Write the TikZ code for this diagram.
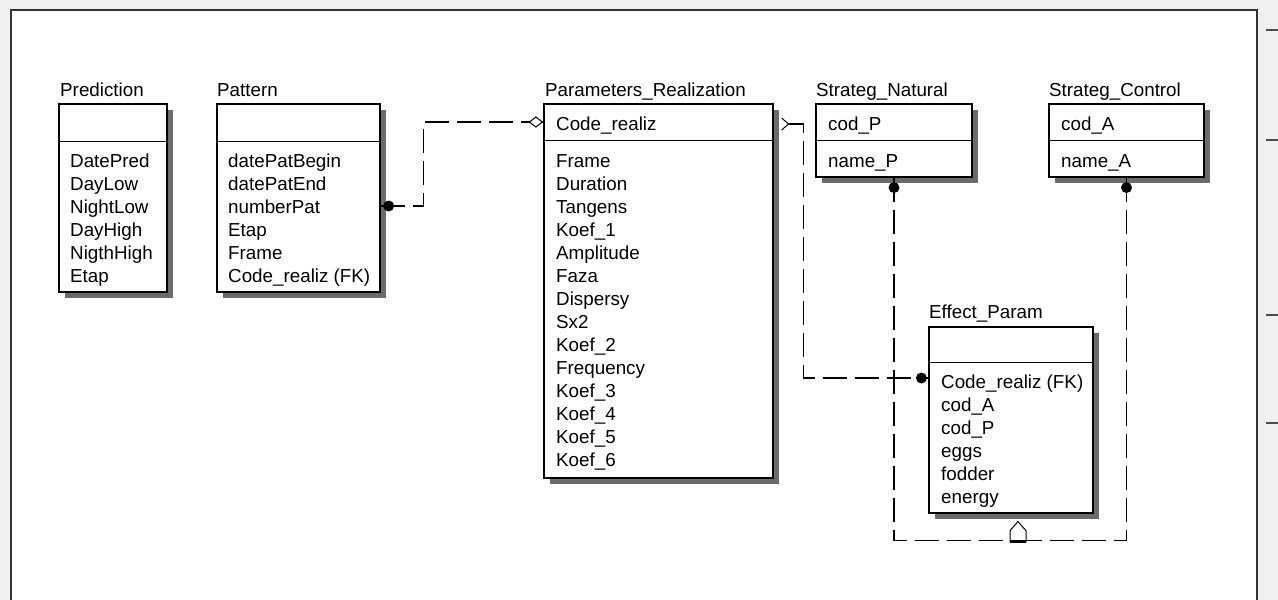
\documentclass[tikz,border=0pt]{standalone}
\usepackage{fontspec}
\setmainfont{Liberation Sans}
\usetikzlibrary{shadows}
\newcommand\efont{\fontsize{18.8}{23}\selectfont}
\tikzset{
  ent/.style={draw=black, line width=1.2pt, fill=white, inner sep=0pt,
    drop shadow={shadow xshift=6pt, shadow yshift=-6pt, fill=black!58, opacity=1}},
  ttl/.style={anchor=base west, inner sep=0pt, font=\efont},
  row/.style={anchor=base west, inner sep=0pt, font=\efont},
  sepline/.style={line width=1.2pt},
  conn/.style={line width=1.1pt, dash pattern=on 24pt off 8pt},
  dotend/.style={circle, fill=black, inner sep=0pt, minimum size=11pt},
  endmark/.style={line width=1pt, fill=white},
}
\begin{document}
\begin{tikzpicture}[x=1pt,y=-1pt]
\useasboundingbox (0,0) rectangle (1278,600);
% background and frame
\fill[black!6] (0,0) rectangle (1278,600);
\fill[white] (11,10) rectangle (1257,600);
\draw[line width=1.6pt, black!80] (11,600) -- (11,10) -- (1257,10) -- (1257,600);
\foreach \yy in {30,140,315,423} \draw[line width=1.5pt, black!70] (1266,\yy) -- (1278,\yy);

% helper levels
\coordinate (h122) at (0,122);
\coordinate (h124) at (0,124);
\coordinate (h206) at (0,206);
\coordinate (h378) at (0,378);

% ---- Prediction
\node[ttl] (predT) at (60,96) {Prediction};
\node[ent, minimum width=108pt, minimum height=188pt] (pred) at (113,198) {};
\draw[sepline] (pred.north west) ++(0,38) -- ++(108,0);
\foreach \t [count=\i] in {DatePred,DayLow,NightLow,DayHigh,NigthHigh,Etap}
  \node[row] (pred-\i) at (70,144+23*\i) {\t};

% ---- Pattern
\node[ttl] (patT) at (217,96) {Pattern};
\node[ent, minimum width=163pt, minimum height=188pt] (pat) at (298.5,198) {};
\draw[sepline] (pat.north west) ++(0,38) -- ++(163,0);
\foreach \t [count=\i] in {datePatBegin,datePatEnd,numberPat,Etap,Frame,Code\_realiz (FK)}
  \node[row] (pat-\i) at (228,144+23*\i) {\t};

% ---- Parameters_Realization
\node[ttl] (parT) at (545,96) {Parameters\_Realization};
\node[ent, minimum width=229pt, minimum height=374pt] (par) at (658.5,291) {};
\draw[sepline] (par.north west) ++(0,37) -- ++(229,0);
\node[row] (par-key) at (556,130) {Code\_realiz};
\foreach \t [count=\i] in {Frame,Duration,Tangens,Koef\_1,Amplitude,Faza,Dispersy,Sx2,Koef\_2,Frequency,Koef\_3,Koef\_4,Koef\_5,Koef\_6}
  \node[row] (par-\i) at (556,144+23*\i) {\t};

% ---- Strateg_Natural
\node[ttl] (snT) at (816,96) {Strateg\_Natural};
\node[ent, minimum width=156pt, minimum height=73pt] (sn) at (894,140.5) {};
\draw[sepline] (sn.north west) ++(0,37) -- ++(156,0);
\node[row] (sn-key) at (828,130) {cod\_P};
\node[row] (sn-1) at (828,167) {name\_P};

% ---- Strateg_Control
\node[ttl] (scT) at (1049,96) {Strateg\_Control};
\node[ent, minimum width=155pt, minimum height=73pt] (sc) at (1126.5,140.5) {};
\draw[sepline] (sc.north west) ++(0,37) -- ++(155,0);
\node[row] (sc-key) at (1061,130) {cod\_A};
\node[row] (sc-1) at (1061,167) {name\_A};

% ---- Effect_Param
\node[ttl] (epT) at (929,318) {Effect\_Param};
\node[ent, minimum width=164pt, minimum height=186pt] (ep) at (1011,420) {};
\draw[sepline] (ep.north west) ++(0,36) -- ++(164,0);
\foreach \t [count=\i] in {Code\_realiz (FK),cod\_A,cod\_P,eggs,fodder,energy}
  \node[row] (ep-\i) at (941,365+23*\i) {\t};

% ---- Connector: Pattern -> Parameters_Realization
\draw[conn] (pat.east |- h206) -- ++(43,0) |- (par.west |- h122);
\node[dotend] (d1) at ([xshift=8pt]pat.east |- h206) {};
\draw[endmark] (par.west |- h122) ++(-1,0) -- ++(-6.5,-5) -- ++(-6.5,5) -- ++(6.5,5) -- cycle;

% ---- Connector: Parameters_Realization -> Effect_Param
\draw[line width=1pt] (par.east |- h124) ++(8,-6) -- ++(7,6) -- ++(-7,6);
\draw[conn] (par.east |- h124) ++(15,0) -- ++(15,0) |- (ep.west |- h378);
\node[dotend] (d2) at ([xshift=-7pt]ep.west |- h378) {};

% ---- Connectors: Strateg_* -> Effect_Param
\coordinate (hb) at ([xshift=7pt,yshift=-27pt]ep.south);
\draw[conn] (sn.south) |- (hb);
\draw[conn] (sc.south) |- (hb);
\node[dotend] (d3) at ([yshift=-10pt]sn.south) {};
\node[dotend] (d4) at ([yshift=-10pt]sc.south) {};
\draw[endmark] (hb) ++(-8,1) -- ++(0,-11) -- ++(8,-9) -- ++(8,9) -- ++(0,11) -- cycle;
\draw[line width=2.5pt] (hb) ++(-8,1) -- ++(16,0);
\end{tikzpicture}
\end{document}
